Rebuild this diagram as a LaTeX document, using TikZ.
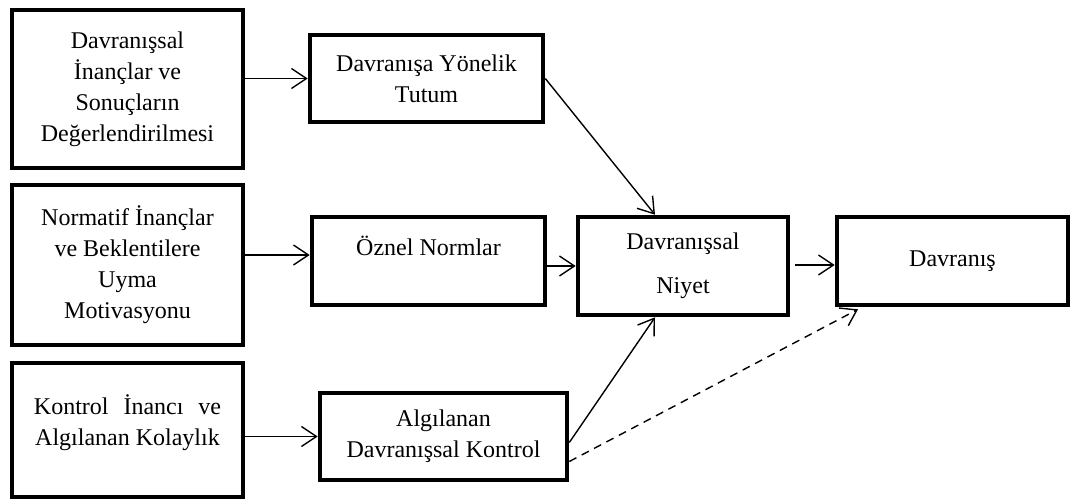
\documentclass[tikz,border=0pt]{standalone}
\usepackage{fontspec}
\setmainfont{Liberation Serif}
\usetikzlibrary{arrows.meta}
\begin{document}
\begin{tikzpicture}[x=1pt,y=-1pt,
  box/.style={draw, line width=4.6pt, align=center, inner sep=0pt,
    font=\fontsize{24}{31}\selectfont},
  link/.style={line width=1.4pt,
    -{Straight Barb[length=15pt,width=20pt,line width=1.4pt]}},
  dashedlink/.style={link, dash pattern=on 8pt off 6pt}]
\useasboundingbox (0,0) rectangle (1077,503);
% left column: beliefs
\node[box, minimum width=231pt, minimum height=158pt] (bel) at (127.5,89)
  {Davranışsal\\İnançlar ve\\Sonuçların\\Değerlendirilmesi};
\node[box, minimum width=231pt, minimum height=160pt] (norm) at (127.5,265)
  {Normatif İnançlar\\ve Beklentilere\\Uyma\\Motivasyonu};
\node[box, minimum width=231pt, minimum height=134pt] (ctl) at (127.5,430)
  {\makebox[187pt][s]{Kontrol İnancı ve}\\Algılanan Kolaylık\\[-12pt]\mbox{}};
% middle column
\node[box, minimum width=233pt, minimum height=87pt] (att) at (426.5,78.5)
  {Davranışa Yönelik\\Tutum};
\node[box, minimum width=233pt, minimum height=88pt] (sn) at (428.5,261)
  {Öznel Normlar\\\mbox{}};
\node[box, minimum width=247pt, minimum height=87pt] (pbc) at (443.5,436.5)
  {Algılanan\\Davranışsal Kontrol};
% intention and behaviour
\node[box, minimum width=210pt, minimum height=98pt] (int) at (683,266)
  {Davranışsal\\[13pt]Niyet};
\node[box, minimum width=231pt, minimum height=88pt] (beh) at (952.5,261)
  {Davranış};
% connector end points
\coordinate (snin) at ([yshift=6pt]sn.west);
\coordinate (snout) at ([xshift=-3pt]sn.east);
\coordinate (intout) at ([xshift=5pt,yshift=1pt]int.east);
\coordinate (pbcA) at ([yshift=-6pt]pbc.east);
\coordinate (pbcB) at ([yshift=-25pt]pbc.east);
\coordinate (behin) at ([xshift=-94.5pt,yshift=-2pt]beh.south);
% connectors
\draw[link] (bel.east |- att.west) -- (att.west);
\draw[link] (norm.east |- snin) -- (snin);
\draw[link] (ctl.east |- pbc.west) -- (pbc.west);
\draw[link] (snout |- int.west) -- (int.west);
\draw[link] (intout) -- (beh.west |- intout);
\draw[link] (att.east) -- ([xshift=-28pt]int.north);
\draw[link] (pbcA) -- ([xshift=-28pt]int.south);
\draw[dashedlink] (pbcB) -- (behin);
\end{tikzpicture}
\end{document}
